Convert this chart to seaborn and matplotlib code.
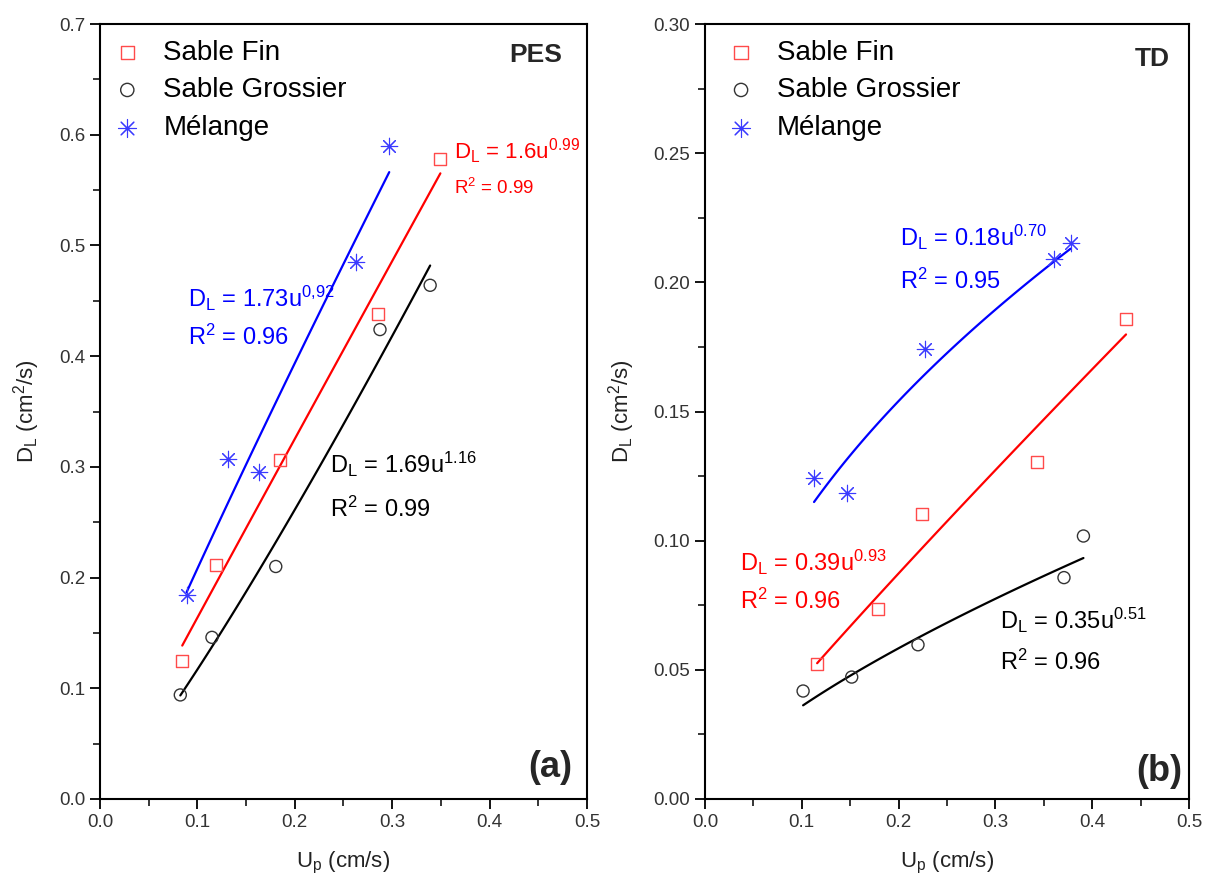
import numpy as np
import pandas as pd
import matplotlib
matplotlib.use("Agg")
import matplotlib.pyplot as plt
import seaborn as sns
from matplotlib.ticker import MultipleLocator, FormatStrFormatter

sns.set_style("ticks")
plt.rcParams['font.family'] = ['Liberation Sans', 'DejaVu Sans']
plt.rcParams['mathtext.fontset'] = 'custom'
plt.rcParams['mathtext.rm'] = 'Liberation Sans'
plt.rcParams['mathtext.it'] = 'Liberation Sans'

# ---------------- data (a) PES ----------------
series_names = ["Sable Fin", "Sable Grossier", "Mélange"]
pes_fin_u = [0.0845, 0.119, 0.185, 0.2855, 0.3495]
pes_fin_d = [0.125, 0.211, 0.306, 0.438, 0.578]
pes_gros_u = [0.0825, 0.115, 0.1805, 0.2875, 0.339]
pes_gros_d = [0.094, 0.146, 0.210, 0.424, 0.464]
pes_mel_u = [0.089, 0.1315, 0.1635, 0.263, 0.297]
pes_mel_d = [0.184, 0.307, 0.295, 0.485, 0.590]
# power-law fit coefficients D = a * u^b
pes_fit_a = [1.6, 1.69, 1.73]
pes_fit_b = [0.99, 1.16, 0.92]

# ---------------- data (b) TD ----------------
td_fin_u = [0.1159, 0.1784, 0.2245, 0.3432, 0.435]
td_fin_d = [0.0521, 0.0734, 0.1102, 0.1306, 0.1859]
td_gros_u = [0.1014, 0.1516, 0.2201, 0.3709, 0.391]
td_gros_d = [0.0418, 0.0472, 0.0597, 0.0857, 0.1018]
td_mel_u = [0.1127, 0.1463, 0.2273, 0.3605, 0.3777]
td_mel_d = [0.1242, 0.1185, 0.1743, 0.2092, 0.2152]
td_fit_a = [0.39, 0.18, 0.35]
td_fit_b = [0.93, 0.70, 0.51]

marker_colors = ["#ff4a4a", "#333333", "#3a3aff"]
line_colors = ["#ff0000", "#000000", "#0000ff"]
markers = ["s", "o", (8, 2, 0)]

fig = plt.figure(figsize=(12.1, 8.76), dpi=100)
fig.patch.set_facecolor("white")
axA = fig.add_axes([0.0826, 0.0879, 0.4025, 0.8847])
axB = fig.add_axes([0.5826, 0.0879, 0.4, 0.8847])


def draw(ax, us, ds, fa, fb):
    for i, (u, d) in enumerate(zip(us, ds)):
        u = np.asarray(u)
        xs = np.linspace(u.min(), u.max(), 60)
        sns.lineplot(x=xs, y=fa[i] * xs ** fb[i], color=line_colors[i], lw=1.6, ax=ax)
    for i, (u, d) in enumerate(zip(us, ds)):
        df = pd.DataFrame({"u": u, "d": d})
        if i < 2:
            sns.scatterplot(data=df, x="u", y="d", marker=markers[i], s=75,
                            facecolors="none", edgecolors=marker_colors[i],
                            linewidth=1.0, ax=ax, label=series_names[i], zorder=3)
        else:
            sns.scatterplot(data=df, x="u", y="d", marker=markers[i], s=140,
                            color=marker_colors[i], linewidth=0.8, ax=ax,
                            label=series_names[i], zorder=3)


draw(axA, [pes_fin_u, pes_gros_u, pes_mel_u], [pes_fin_d, pes_gros_d, pes_mel_d],
     pes_fit_a, pes_fit_b)
draw(axB, [td_fin_u, td_gros_u, td_mel_u], [td_fin_d, td_gros_d, td_mel_d],
     td_fit_a, td_fit_b)

for ax, ymax, ymaj, yfmt, lx in [(axA, 0.7, 0.1, '%.1f', -0.018), (axB, 0.30, 0.05, '%.2f', 0.0)]:
    ax.set_xlim(0, 0.5)
    ax.set_ylim(0, ymax)
    ax.xaxis.set_major_locator(MultipleLocator(0.1))
    ax.xaxis.set_minor_locator(MultipleLocator(0.05))
    ax.yaxis.set_major_locator(MultipleLocator(ymaj))
    ax.yaxis.set_minor_locator(MultipleLocator(ymaj / 2))
    ax.xaxis.set_major_formatter(FormatStrFormatter('%.1f'))
    ax.yaxis.set_major_formatter(FormatStrFormatter(yfmt))
    ax.tick_params(which='major', direction='out', length=7, width=1.3,
                   labelsize=13.5, labelcolor='#333333', color='black',
                   top=False, right=False)
    ax.tick_params(which='minor', direction='out', length=5, width=1.3,
                   top=False, right=False)
    for sp in ax.spines.values():
        sp.set_visible(True)
        sp.set_color('black')
        sp.set_linewidth(1.5)
    ax.set_xlabel(r'U$_\mathregular{p}$ (cm/s)', fontsize=16, color='#222222', labelpad=14)
    ax.set_ylabel(r'D$_\mathregular{L}$ (cm$^\mathregular{2}$/s)', fontsize=16,
                  color='#222222', labelpad=12)
    ax.grid(False)
    leg = ax.legend(loc='upper left', frameon=False, fontsize=20, handletextpad=0.7,
                    labelspacing=0.42, borderaxespad=0.3, handlelength=1.2,
                    markerscale=1.1, bbox_to_anchor=(lx, 1.005))
    for t in leg.get_texts():
        t.set_color('black')

# annotations (a)
axA.text(0.895, 0.96, 'PES', transform=axA.transAxes, fontsize=19, fontweight='bold',
         ha='center', va='center')
axA.text(0.925, 0.04, '(a)', transform=axA.transAxes, fontsize=26, fontweight='bold',
         ha='center', va='center')
axA.text(0.363, 0.585, r'D$_\mathregular{L}$ = 1.6u$^\mathregular{0.99}$', color='red',
         fontsize=16, va='center')
axA.text(0.363, 0.552, r'R$^\mathregular{2}$ = 0.99', color='red', fontsize=13.5, va='center')
axA.text(0.0905, 0.452, r'D$_\mathregular{L}$ = 1.73u$^\mathregular{0{,}92}$', color='blue',
         fontsize=17, va='center')
axA.text(0.0905, 0.417, r'R$^\mathregular{2}$ = 0.96', color='blue', fontsize=17, va='center')
axA.text(0.2366, 0.302, r'D$_\mathregular{L}$ = 1.69u$^\mathregular{1.16}$', color='black',
         fontsize=17, va='center')
axA.text(0.2366, 0.262, r'R$^\mathregular{2}$ = 0.99', color='black', fontsize=17, va='center')

# annotations (b)
axB.text(0.924, 0.955, 'TD', transform=axB.transAxes, fontsize=19, fontweight='bold',
         ha='center', va='center')
axB.text(0.938, 0.035, '(b)', transform=axB.transAxes, fontsize=26, fontweight='bold',
         ha='center', va='center')
axB.text(0.201, 0.2175, r'D$_\mathregular{L}$ = 0.18u$^\mathregular{0.70}$', color='blue',
         fontsize=17, va='center')
axB.text(0.201, 0.2005, r'R$^\mathregular{2}$ = 0.95', color='blue', fontsize=17, va='center')
axB.text(0.036, 0.0917, r'D$_\mathregular{L}$ = 0.39u$^\mathregular{0.93}$', color='red',
         fontsize=17, va='center')
axB.text(0.036, 0.0767, r'R$^\mathregular{2}$ = 0.96', color='red', fontsize=17, va='center')
axB.text(0.3046, 0.0693, r'D$_\mathregular{L}$ = 0.35u$^\mathregular{0.51}$', color='black',
         fontsize=17, va='center')
axB.text(0.3046, 0.053, r'R$^\mathregular{2}$ = 0.96', color='black', fontsize=17, va='center')

fig.savefig("out.png", dpi=100, facecolor="white")
